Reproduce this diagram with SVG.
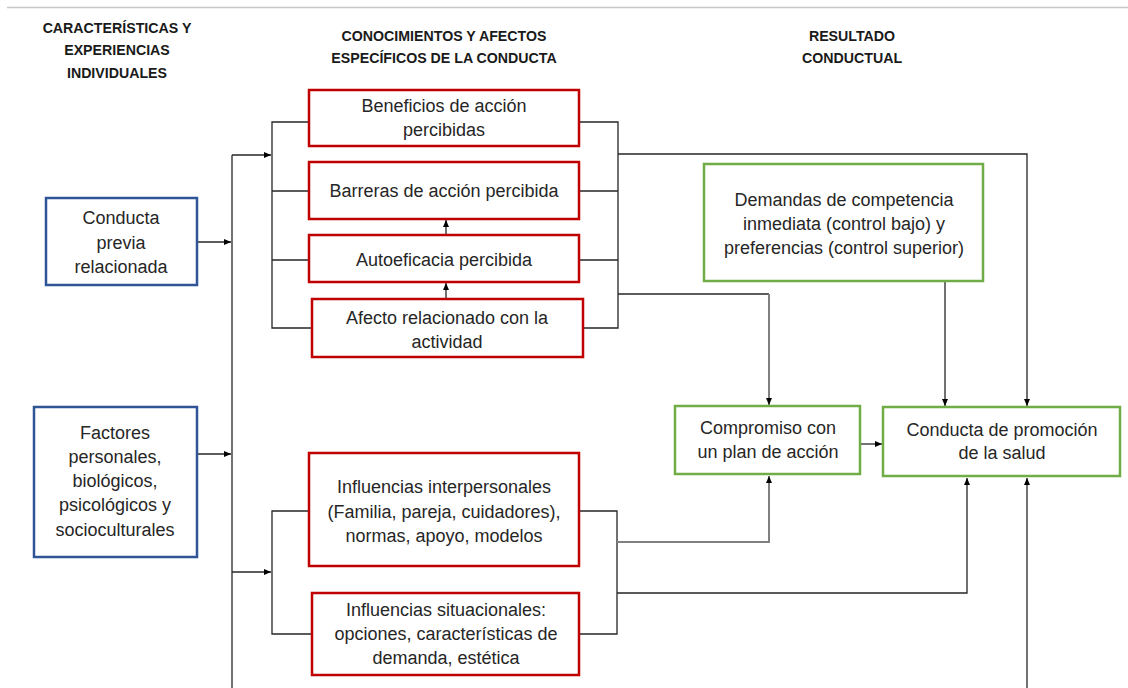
<svg xmlns="http://www.w3.org/2000/svg" width="1128" height="688" viewBox="0 0 1128 688">
<style>
.hdr{font-family:"Liberation Sans",Arial,sans-serif;font-weight:bold;font-size:14.2px;fill:#1a1a1a;text-anchor:middle}
.t{font-family:"Liberation Sans",Arial,sans-serif;font-size:18px;fill:#262626;text-anchor:middle}
.red{fill:#fff;stroke:#c00000;stroke-width:2.5}
.blue{fill:#fff;stroke:#2f5597;stroke-width:2.5}
.green{fill:#fff;stroke:#70ad47;stroke-width:2.5}
.c{fill:none;stroke:#262626;stroke-width:1.3}
.g{fill:none;stroke:#808080;stroke-width:2}
</style>
<defs>
<marker id="ah" markerUnits="userSpaceOnUse" markerWidth="8" markerHeight="8" viewBox="0 0 8 8" refX="7" refY="4" orient="auto">
<path d="M0,1 L7,4 L0,7 z" fill="#000"/>
</marker>
</defs>
<rect width="1128" height="688" fill="#fff"/>
<line x1="7" y1="7.5" x2="1128" y2="7.5" stroke="#c8c8c8" stroke-width="1.5"/>
<g id="headers">
<text class="hdr" x="117" y="33">CARACTERÍSTICAS Y</text>
<text class="hdr" x="117" y="55">EXPERIENCIAS</text>
<text class="hdr" x="117" y="78">INDIVIDUALES</text>
<text class="hdr" x="444" y="41">CONOCIMIENTOS Y AFECTOS</text>
<text class="hdr" x="444" y="63">ESPECÍFICOS DE LA CONDUCTA</text>
<text class="hdr" x="852" y="41">RESULTADO</text>
<text class="hdr" x="852" y="63">CONDUCTUAL</text>
</g>
<g id="connectors">
<path class="c" d="M232,155 V688"/>
<path class="c" d="M197,242 H231" marker-end="url(#ah)"/>
<path class="c" d="M197,454 H231" marker-end="url(#ah)"/>
<path class="c" d="M232,155 H271" marker-end="url(#ah)"/>
<path class="c" d="M232,572 H271" marker-end="url(#ah)"/>
<path class="c" d="M309,122 H272 V328 H312 M272,191 H309 M272,260 H309"/>
<path class="c" d="M579,122 H618 V328 H583 M579,191 H618 M579,260 H618"/>
<path class="c" d="M446,235 V220" marker-end="url(#ah)"/>
<path class="c" d="M446,299 V283" marker-end="url(#ah)"/>
<path class="c" d="M618,154 H1027 V406" marker-end="url(#ah)"/>
<path class="c" d="M618,294 H769"/>
<path class="g" d="M769,294 V405" marker-end="url(#ah)"/>
<path class="c" d="M945,281 V406" marker-end="url(#ah)"/>
<path class="c" d="M860,444 H882" marker-end="url(#ah)"/>
<path class="c" d="M309,511 H272 V634 H312"/>
<path class="c" d="M579,511 H617 V634 H579"/>
<path class="g" d="M617,542 H769 V476" marker-end="url(#ah)"/>
<path class="c" d="M617,593 H967 V478" marker-end="url(#ah)"/>
<path class="c" d="M1027,688 V478" marker-end="url(#ah)"/>
</g>
<g id="n-previa">
<rect class="blue" x="46" y="198" width="151" height="87"/>
<text class="t" x="121" y="224">Conducta</text>
<text class="t" x="121" y="249">previa</text>
<text class="t" x="121" y="273">relacionada</text>
</g>
<g id="n-factores">
<rect class="blue" x="34" y="407" width="163" height="150"/>
<text class="t" x="115" y="439">Factores</text>
<text class="t" x="115" y="463">personales,</text>
<text class="t" x="115" y="487">biológicos,</text>
<text class="t" x="115" y="511">psicológicos y</text>
<text class="t" x="115" y="536">socioculturales</text>
</g>
<g id="n-beneficios">
<rect class="red" x="309" y="90" width="270" height="56"/>
<text class="t" x="444" y="112">Beneficios de acción</text>
<text class="t" x="444" y="136">percibidas</text>
</g>
<g id="n-barreras">
<rect class="red" x="309" y="162" width="270" height="57"/>
<text class="t" x="444" y="197">Barreras de acción percibida</text>
</g>
<g id="n-autoeficacia">
<rect class="red" x="309" y="235" width="270" height="47"/>
<text class="t" x="444" y="266">Autoeficacia percibida</text>
</g>
<g id="n-afecto">
<rect class="red" x="312" y="299" width="271" height="58"/>
<text class="t" x="447" y="324">Afecto relacionado con la</text>
<text class="t" x="447" y="348">actividad</text>
</g>
<g id="n-interpersonales">
<rect class="red" x="309" y="453" width="270" height="113"/>
<text class="t" x="444" y="493">Influencias interpersonales</text>
<text class="t" x="444" y="518">(Familia, pareja, cuidadores),</text>
<text class="t" x="444" y="542">normas, apoyo, modelos</text>
</g>
<g id="n-situacionales">
<rect class="red" x="312" y="593" width="267" height="82"/>
<text class="t" x="446" y="616">Influencias situacionales:</text>
<text class="t" x="446" y="640">opciones, características de</text>
<text class="t" x="446" y="664">demanda, estética</text>
</g>
<g id="n-demandas">
<rect class="green" x="704" y="164" width="279" height="117"/>
<text class="t" x="844" y="206">Demandas de competencia</text>
<text class="t" x="844" y="230">inmediata (control bajo) y</text>
<text class="t" x="844" y="254">preferencias (control superior)</text>
</g>
<g id="n-compromiso">
<rect class="green" x="675" y="406" width="185" height="68"/>
<text class="t" x="768" y="434">Compromiso con</text>
<text class="t" x="768" y="458">un plan de acción</text>
</g>
<g id="n-conducta">
<rect class="green" x="883" y="407" width="237" height="69"/>
<text class="t" x="1002" y="436">Conducta de promoción</text>
<text class="t" x="1002" y="459">de la salud</text>
</g>
</svg>
